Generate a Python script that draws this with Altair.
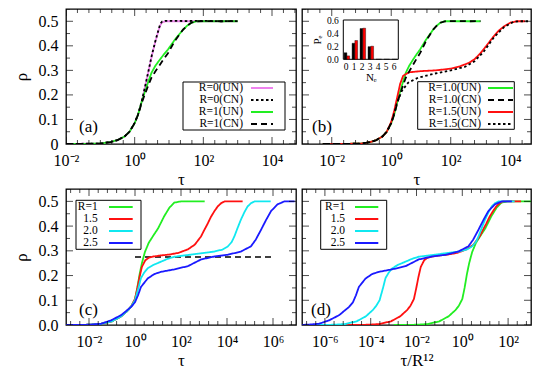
import altair as alt
import pandas as pd
import numpy as np

FONT = "Liberation Serif"

# ---------------- data: log10(tau) and rho ----------------
# panel (a), R=0
a_r0_lx = [-2.0, -1.0, -0.7, -0.5, -0.3, -0.15, 0.0, 0.1, 0.2, 0.3, 0.4, 0.5, 0.6, 0.7, 0.75, 0.8, 0.9, 1.5, 2.0, 2.5, 3.0]
a_r0un_y = [0.0, 0.002, 0.008, 0.016, 0.03, 0.05, 0.085, 0.12, 0.17, 0.23, 0.295, 0.36, 0.415, 0.465, 0.485, 0.495, 0.5, 0.5, 0.5, 0.5, 0.5]
a_r0cn_y = [0.0, 0.002, 0.008, 0.016, 0.03, 0.05, 0.086, 0.121, 0.171, 0.232, 0.296, 0.362, 0.418, 0.468, 0.49, 0.499, 0.502, 0.501, 0.502, 0.5, 0.501]

# R=1 runs (panels a and b)
r1_lx = [-2.3, -1.5, -1.0, -0.7, -0.5, -0.3, -0.15, 0.0, 0.1, 0.2, 0.29, 0.4, 0.49, 0.6, 0.73, 0.85, 0.97, 1.07, 1.17, 1.3, 1.41, 1.53, 1.65, 1.8, 2.2, 2.6, 3.0]
r1un_y = [0.0, 0.0005, 0.002, 0.008, 0.016, 0.03, 0.05, 0.085, 0.12, 0.17, 0.21, 0.255, 0.29, 0.318, 0.343, 0.365, 0.385, 0.405, 0.425, 0.447, 0.466, 0.482, 0.494, 0.5, 0.5, 0.5, 0.5]
r1cn_y = [0.0, 0.0005, 0.002, 0.008, 0.016, 0.03, 0.05, 0.085, 0.12, 0.165, 0.2, 0.24, 0.27, 0.295, 0.322, 0.347, 0.37, 0.395, 0.42, 0.445, 0.466, 0.482, 0.494, 0.5, 0.501, 0.5, 0.501]

# panel (b), R=1.5
b_r15un_lx = [-2.3, -1.5, -1.0, -0.7, -0.5, -0.3, -0.15, 0.0, 0.1, 0.2, 0.3, 0.4, 0.6, 1.0, 1.5, 2.0, 2.3, 2.6, 2.8, 3.0, 3.2, 3.4, 3.6, 3.8, 4.0, 4.2, 4.5]
b_r15un_y = [0.0, 0.0005, 0.002, 0.008, 0.016, 0.03, 0.05, 0.09, 0.135, 0.19, 0.245, 0.278, 0.292, 0.297, 0.3, 0.307, 0.316, 0.33, 0.345, 0.37, 0.4, 0.432, 0.46, 0.48, 0.494, 0.5, 0.5]
b_r15cn_lx = [-2.3, -1.5, -1.0, -0.7, -0.5, -0.3, -0.15, 0.0, 0.1, 0.2, 0.35, 0.57, 0.9, 1.46, 2.0, 2.47, 2.8, 3.1, 3.45, 3.8, 4.1, 4.3, 4.6]
b_r15cn_y = [0.0, 0.0005, 0.002, 0.008, 0.016, 0.03, 0.05, 0.085, 0.125, 0.17, 0.215, 0.25, 0.27, 0.287, 0.3, 0.314, 0.337, 0.375, 0.434, 0.477, 0.497, 0.5, 0.5]

# inset of (b)
ne_vals = [0, 1, 2, 3, 4, 5, 6]
pe_black = [0.10, 0.245, 0.47, 0.193, 0.0, 0.0, 0.0]
pe_red = [0.052, 0.287, 0.475, 0.20, 0.0, 0.0, 0.0]

# panel (c)
c_r1_lx = [-3.0, -2.0, -1.5, -1.0, -0.6, -0.3, -0.15, 0.0, 0.1, 0.2, 0.3, 0.43, 0.6, 0.8, 1.0, 1.27, 1.5, 1.71, 2.0, 2.5, 3.03]
c_r1_y = [0.0, 0.001, 0.004, 0.015, 0.035, 0.06, 0.078, 0.105, 0.15, 0.205, 0.25, 0.295, 0.333, 0.362, 0.39, 0.44, 0.475, 0.495, 0.5, 0.5, 0.5]
c_r15_lx = [-3.0, -2.0, -1.5, -1.0, -0.6, -0.3, -0.15, 0.0, 0.1, 0.2, 0.3, 0.45, 0.6, 0.8, 1.1, 1.5, 1.9, 2.3, 2.6, 2.87, 3.0, 3.16, 3.3, 3.45, 3.6, 3.75, 3.9, 4.3, 4.68]
c_r15_y = [0.0, 0.001, 0.004, 0.015, 0.035, 0.06, 0.078, 0.105, 0.148, 0.195, 0.235, 0.262, 0.272, 0.277, 0.281, 0.285, 0.292, 0.306, 0.325, 0.358, 0.382, 0.41, 0.437, 0.46, 0.48, 0.493, 0.5, 0.5, 0.5]
c_r20_lx = [-3.0, -2.0, -1.5, -1.0, -0.6, -0.3, -0.15, 0.0, 0.15, 0.26, 0.4, 0.55, 0.8, 1.13, 1.4, 1.71, 2.3, 2.87, 3.45, 3.8, 4.03, 4.2, 4.32, 4.45, 4.6, 4.75, 4.9, 5.05, 5.2, 5.6, 5.9]
c_r20_y = [0.0, 0.001, 0.004, 0.015, 0.035, 0.06, 0.077, 0.1, 0.15, 0.19, 0.212, 0.229, 0.243, 0.256, 0.267, 0.276, 0.283, 0.29, 0.297, 0.305, 0.317, 0.335, 0.358, 0.39, 0.425, 0.455, 0.48, 0.493, 0.5, 0.5, 0.5]
c_r25_lx = [-3.0, -2.0, -1.48, -1.04, -0.6, -0.17, 0.0, 0.13, 0.26, 0.55, 0.84, 1.13, 1.71, 2.3, 2.87, 3.45, 4.03, 4.6, 5.04, 5.25, 5.48, 5.7, 5.91, 6.0, 6.2, 6.5, 6.94]
c_r25_y = [0.0, 0.001, 0.005, 0.019, 0.04, 0.073, 0.092, 0.12, 0.154, 0.188, 0.206, 0.215, 0.225, 0.238, 0.265, 0.277, 0.284, 0.297, 0.318, 0.345, 0.385, 0.425, 0.46, 0.469, 0.488, 0.5, 0.5]
c_plateau_lx = [0.0, 6.0]
c_plateau_y = [0.275, 0.275]

GREEN, MAGENTA, RED, CYAN, BLUE = "#22ee22", "#ee82ee", "#ff1010", "#10e8f0", "#1a1aff"
SOLID, DASH, DOT = [1, 0], [6, 4], [2.5, 2.5]

SUP = {'-': '\u207b', '0': '\u2070', '1': '\u00b9', '2': '\u00b2', '3': '\u00b3',
       '4': '\u2074', '5': '\u2075', '6': '\u2076', '7': '\u2077'}


def pow_expr(exps):
    e = "round(log(datum.value)/LN10)"
    parts = " : ".join("%s == %d ? '10%s'" % (e, k, ''.join(SUP[c] for c in str(k))) for k in exps)
    return parts + " : ''"


def sdf(lx, y, name, R=0.0):
    return pd.DataFrame({'tau': [10.0 ** v for v in lx], 'rho': y, 'series': name, 'R': R})


dummy = pd.DataFrame({'k': [0]})


def tick_layers(xscale, yscale, xaxis, yaxis, W, H, x_major, x_minor):
    xdf = pd.DataFrame({'v': [10.0 ** e for e in x_major] + [10.0 ** e for e in x_minor],
                        's': [14] * len(x_major) + [8] * len(x_minor)})
    ymaj = [0.0, 0.1, 0.2, 0.3, 0.4, 0.5]
    ymin = [0.05, 0.15, 0.25, 0.35, 0.45, 0.55]
    ydf = pd.DataFrame({'v': ymaj + ymin, 's': [14] * 6 + [8] * 6})
    out = []
    for yv in [0, H]:
        out.append(alt.Chart(xdf).mark_tick(orient='vertical', clip=True, color='black', thickness=1).encode(
            x=alt.X('v:Q', scale=xscale, axis=xaxis), y=alt.value(yv), size=alt.Size('s:Q', scale=None)))
    for xv in [0, W]:
        out.append(alt.Chart(ydf).mark_tick(orient='horizontal', clip=True, color='black', thickness=1).encode(
            y=alt.Y('v:Q', scale=yscale, axis=yaxis), x=alt.value(xv), size=alt.Size('s:Q', scale=None)))
    return out


def legend_layers(entries, box, rows, label_right, sym_x0, sym_x1):
    x0, y0, x1, y1 = box
    out = [alt.Chart(dummy).mark_rect(fill='white', stroke='black', strokeWidth=1).encode(
        x=alt.value(x0), x2=alt.value(x1), y=alt.value(y0), y2=alt.value(y1))]
    for (name, col, dash), yy in zip(entries, rows):
        out.append(alt.Chart(dummy).mark_rule(strokeWidth=2, strokeDash=dash, color=col).encode(
            x=alt.value(sym_x0), x2=alt.value(sym_x1), y=alt.value(yy)))
        out.append(alt.Chart(dummy).mark_text(text=name, font=FONT, fontSize=11.5, align='right',
                                              baseline='middle', color='black').encode(
            x=alt.value(label_right), y=alt.value(yy)))
    return out


def build_panel(df, order, colors, dashes, xdom, W, H, xlab_exps, xtitle, ykind,
                x_major, x_minor, leg, tag, tag_xy, xcalc=None, extra=None):
    xscale = alt.Scale(type='log', domain=xdom, nice=False)
    yscale = alt.Scale(domain=[0, 0.55], nice=False, zero=False)
    xaxis = alt.Axis(values=[10.0 ** e for e in xlab_exps], labelExpr=pow_expr(xlab_exps), ticks=False,
                     domain=False, grid=False, title=xtitle, labelFontSize=16, labelPadding=8,
                     titlePadding=3, titleFontSize=17, titleFontWeight='normal', labelFlush=False,
                     labelOverlap=False, labelFont=FONT, titleFont=FONT, labelColor='black', titleColor='black')
    if ykind is None:
        yaxis = None
    else:
        lexpr = ("datum.value == 0 ? '0' : format(datum.value, '.1f')" if ykind == 'a'
                 else "format(datum.value, '.1f')")
        yaxis = alt.Axis(values=[0.0, 0.1, 0.2, 0.3, 0.4, 0.5], labelExpr=lexpr, ticks=False, domain=False,
                         grid=False, title='\u03c1', titleX=-45, titleY=H / 2, titleBaseline='middle',
                         titleFontSize=17, titleFontWeight='normal', labelFontSize=16, labelPadding=8,
                         labelFont=FONT, titleFont=FONT, labelColor='black', titleColor='black')
    base = alt.Chart(df)
    xfield = 'tau'
    if xcalc is not None:
        base = base.transform_calculate(xs=xcalc)
        xfield = 'xs'
    lines = base.mark_line(clip=True, strokeWidth=1.8).encode(
        x=alt.X(xfield + ':Q', scale=xscale, axis=xaxis),
        y=alt.Y('rho:Q', scale=yscale, axis=yaxis),
        color=alt.Color('series:N', scale=alt.Scale(domain=order, range=colors), legend=None),
        strokeDash=alt.StrokeDash('series:N', scale=alt.Scale(domain=order, range=dashes), legend=None),
    )
    label = alt.Chart(dummy).mark_text(text=tag, font=FONT, fontSize=17, align='left', baseline='middle',
                                      color='black').encode(x=alt.value(tag_xy[0]), y=alt.value(tag_xy[1]))
    box, rows, lr, s0, s1 = leg
    entries = list(zip(order, colors, dashes))
    layers = []
    if extra is not None:
        layers += extra(xscale, yscale, xaxis, yaxis)
    layers += [lines] + tick_layers(xscale, yscale, xaxis, yaxis, W, H, x_major, x_minor) + [label]
    layers += legend_layers(entries, box, rows, lr, s0, s1)
    return alt.layer(*layers)


W1, W2, HT, HB = 230, 229, 135, 136

# ---- panel (a)
order_a = ['R=0(UN)', 'R=0(CN)', 'R=1(UN)', 'R=1(CN)']
df_a = pd.concat([sdf(a_r0_lx, a_r0un_y, 'R=0(UN)'), sdf(r1_lx, r1un_y, 'R=1(UN)'),
                  sdf(a_r0_lx, a_r0cn_y, 'R=0(CN)'), sdf(r1_lx, r1cn_y, 'R=1(CN)')])
xa_major = [-2, 0, 2, 4]
xa_minor = [round(v, 3) for v in np.arange(-2, 4.75, 1 / 3) if min(abs(v - m) for m in xa_major) > 0.05]
rows_top = [79, 91, 103, 115]
pa = build_panel(df_a, order_a, [MAGENTA, 'black', GREEN, 'black'], [SOLID, DOT, SOLID, DASH],
                 [1e-2, 5e4], W1, HT, [-2, 0, 2, 4], '\u03c4', 'a', xa_major, xa_minor,
                 ((117, 73, 219, 121), rows_top, 177, 185, 207),
                 '(a)', (13, 118)).properties(width=W1, height=HT)

# ---- panel (b)
order_b = ['R=1.0(UN)', 'R=1.0(CN)', 'R=1.5(UN)', 'R=1.5(CN)']
df_b = pd.concat([sdf(r1_lx, r1un_y, 'R=1.0(UN)'), sdf(b_r15un_lx, b_r15un_y, 'R=1.5(UN)'),
                  sdf(r1_lx, r1cn_y, 'R=1.0(CN)'), sdf(b_r15cn_lx, b_r15cn_y, 'R=1.5(CN)')])
xb_major = [-2, 0, 2, 4]
xb_minor = [round(v, 3) for v in np.arange(-2.8, 4.75, 0.4) if min(abs(v - m) for m in xb_major) > 0.05]
main_b = build_panel(df_b, order_b, [GREEN, 'black', RED, 'black'], [SOLID, DASH, SOLID, DOT],
                     [1e-3, 5e4], W2, HT, [-2, 0, 2, 4], '\u03c4', None, xb_major, xb_minor,
                     ((115.7, 72.7, 212.3, 120.3), rows_top, 179, 186, 211),
                     '(b)', (10, 118))

inset_df = pd.DataFrame({'Ne': ne_vals + ne_vals, 'P': pe_black + pe_red,
                         'grp': ['black'] * 7 + ['red'] * 7})
ixs = alt.Scale(domain=[-0.3, 6.6], range=[41.3, 96.3], nice=False, zero=False)
iys = alt.Scale(domain=[0, 0.6], range=[50.3, 11], nice=False, zero=False)
ixaxis = alt.Axis(orient='bottom', offset=50.3 - HT, values=ne_vals, format='d',
                  title='N\u2091', ticks=False, domain=False, grid=False,
                  labelFontSize=9.5, labelPadding=2, titleFontSize=11,
                  titlePadding=1, titleFontWeight='normal', labelFont=FONT,
                  titleFont=FONT, labelFlush=False, labelColor='black', titleColor='black')
iyaxis = alt.Axis(orient='left', offset=-41.3, values=[0.0, 0.2, 0.4, 0.6],
                  format='.1f', title='P\u2091', ticks=False, domain=False,
                  grid=False, labelFontSize=9.5, labelPadding=5, titleFontSize=11,
                  titlePadding=4, titleFontWeight='normal', labelFont=FONT,
                  titleFont=FONT, labelColor='black', titleColor='black')
inset_bars = alt.Chart(inset_df).transform_calculate(
    x0="datum.Ne + (datum.grp == 'black' ? -0.2 : 0.15)",
    x1="datum.Ne + (datum.grp == 'black' ? 0.15 : 0.5)",
    z="0",
).mark_rect(stroke='black', strokeWidth=0.4).encode(
    x=alt.X('x0:Q', scale=ixs, axis=ixaxis),
    x2='x1:Q',
    y=alt.Y('P:Q', scale=iys, axis=iyaxis),
    y2='z:Q',
    fill=alt.Fill('grp:N', scale=None),
)
inset_frame = alt.Chart(pd.DataFrame({'x0': [-0.3], 'x1': [6.6], 'P': [0.0], 'z': [0.6]})).mark_rect(
    fillOpacity=0, stroke='black', strokeWidth=1).encode(
    x=alt.X('x0:Q', scale=ixs, axis=ixaxis), x2='x1:Q', y=alt.Y('P:Q', scale=iys, axis=iyaxis), y2='z:Q')
pb = alt.layer(main_b, alt.layer(inset_frame, inset_bars)).resolve_scale(
    x='independent', y='independent').properties(width=W2, height=HT)

# ---- panel (c)
order_c = ['R=1', '1.5', '2.0', '2.5']
df_c = pd.concat([sdf(c_r1_lx, c_r1_y, 'R=1', 1.0), sdf(c_r15_lx, c_r15_y, '1.5', 1.5),
                  sdf(c_r20_lx, c_r20_y, '2.0', 2.0), sdf(c_r25_lx, c_r25_y, '2.5', 2.5)])
xc_major = [-2, 0, 2, 4, 6]
xc_minor = [round(v, 3) for v in np.arange(-2.8, 7.0, 0.4) if min(abs(v - m) for m in xc_major) > 0.05]
plateau_df = pd.DataFrame({'tau': [10.0 ** v for v in c_plateau_lx], 'rho': c_plateau_y})


def plateau_layer(xscale, yscale, xaxis, yaxis):
    return [alt.Chart(plateau_df).mark_line(color='black', strokeDash=[6, 4], strokeWidth=1.6, clip=True).encode(
        x=alt.X('tau:Q', scale=xscale, axis=xaxis), y=alt.Y('rho:Q', scale=yscale, axis=yaxis))]


rows_bot = [18, 30, 42, 54]
pc = build_panel(df_c, order_c, [GREEN, RED, CYAN, BLUE], [SOLID] * 4,
                 [1e-3, 1e7], W1, HB, xc_major, '\u03c4', 'c', xc_major, xc_minor,
                 ((10, 11.3, 75, 60.3), rows_bot, 31.7, 43, 66.7),
                 '(c)', (13, 121), extra=plateau_layer).properties(width=W1, height=HB)

# ---- panel (d): same runs, time rescaled by R^12
xd_major = [-6, -4, -2, 0, 2]
xd_minor = [round(v, 3) for v in np.arange(-6.8, 3.0, 0.4) if min(abs(v - m) for m in xd_major) > 0.05]
pd_ = build_panel(df_c, order_c, [GREEN, RED, CYAN, BLUE], [SOLID] * 4,
                  [1e-7, 1e3], W2, HB, xd_major, '\u03c4/R\u00b9\u00b2', None, xd_major, xd_minor,
                  ((18.7, 11.3, 84.7, 60.3), rows_bot, 43, 53, 76.3),
                  '(d)', (9, 121), xcalc="datum.tau / pow(datum.R, 12)").properties(width=W2, height=HB)

chart = alt.concat(pa, pb, pc, pd_, columns=2, spacing={'row': 0, 'column': 4}).resolve_scale(
    color='independent', strokeDash='independent', x='independent', y='independent'
).properties(padding={'left': 3, 'top': 0, 'right': 5, 'bottom': 2})
chart = chart.configure(
    font=FONT,
    style={'guide-label': {'font': FONT}, 'guide-title': {'font': FONT}},
).configure_view(stroke='black', strokeWidth=1.3).configure_axis(
    labelFont=FONT, titleFont=FONT).configure_text(font=FONT)

chart.save("out.html", embed_options={"renderer": "svg", "actions": False})
